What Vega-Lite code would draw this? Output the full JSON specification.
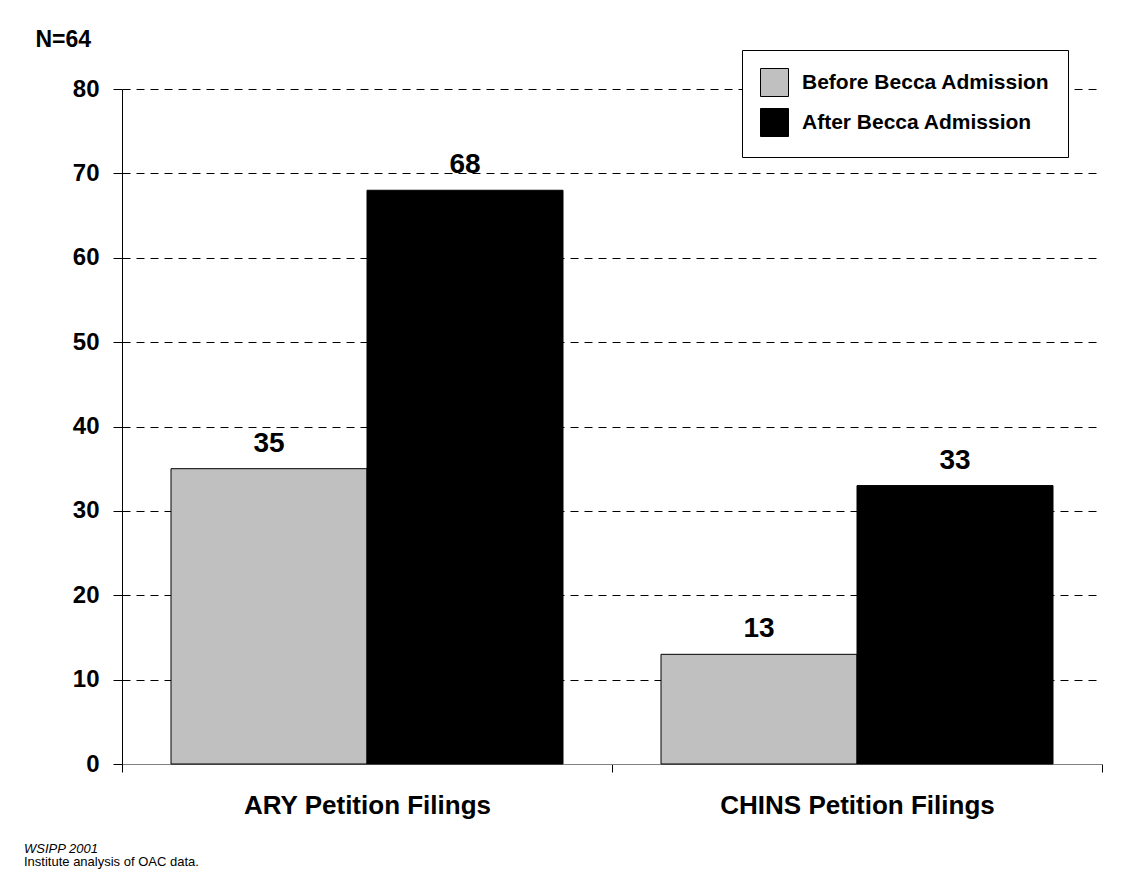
{
  "$schema": "https://vega.github.io/schema/vega-lite/v6.json",
  "width": 980,
  "height": 675,
  "autosize": "none",
  "padding": {"left": 122, "top": 89, "right": 31, "bottom": 109},
  "background": "white",
  "config": {
    "font": "Liberation Sans",
    "view": {"stroke": null}
  },
  "title": {
    "text": "WSIPP 2001",
    "subtitle": "Institute analysis of OAC data.",
    "orient": "bottom",
    "anchor": "start",
    "frame": "group",
    "dx": -98,
    "offset": 25,
    "fontSize": 13,
    "fontStyle": "italic",
    "fontWeight": "normal",
    "color": "black",
    "subtitleFontSize": 13,
    "subtitleFontStyle": "normal",
    "subtitleColor": "black",
    "subtitlePadding": 0
  },
  "data": {
    "values": [
      {"category": "ARY Petition Filings", "period": "Before Becca Admission", "value": 35},
      {"category": "ARY Petition Filings", "period": "After Becca Admission", "value": 68},
      {"category": "CHINS Petition Filings", "period": "Before Becca Admission", "value": 13},
      {"category": "CHINS Petition Filings", "period": "After Becca Admission", "value": 33}
    ]
  },
  "encoding": {
    "x": {
      "field": "category",
      "type": "nominal",
      "sort": ["ARY Petition Filings", "CHINS Petition Filings"],
      "scale": {"paddingInner": 0, "paddingOuter": 0},
      "axis": {
        "title": null,
        "labelAngle": 0,
        "labelFontSize": 26,
        "labelFontWeight": "bold",
        "labelColor": "black",
        "labelLimit": 600,
        "labelPadding": 20,
        "tickBand": "extent",
        "tickSize": 8,
        "tickColor": "black",
        "domainColor": "#808080",
        "grid": false
      }
    },
    "xOffset": {
      "field": "period",
      "type": "nominal",
      "sort": ["Before Becca Admission", "After Becca Admission"],
      "scale": {"paddingInner": 0, "paddingOuter": 0.25}
    },
    "y": {
      "field": "value",
      "type": "quantitative",
      "scale": {"domain": [0, 80], "nice": false},
      "axis": {
        "values": [0, 10, 20, 30, 40, 50, 60, 70, 80],
        "title": "N=64",
        "titleAngle": 0,
        "titleAlign": "left",
        "titleBaseline": "alphabetic",
        "titleX": -87,
        "titleY": -43,
        "titleFontSize": 23,
        "titleFontWeight": "bold",
        "titleColor": "black",
        "labelFontSize": 24,
        "labelFontWeight": "bold",
        "labelColor": "black",
        "labelPadding": 14,
        "tickSize": 9,
        "tickColor": "black",
        "domainColor": "black",
        "grid": true,
        "gridColor": "black",
        "gridDash": [8, 6],
        "gridWidth": 1
      }
    }
  },
  "layer": [
    {
      "mark": {"type": "bar", "stroke": "black", "strokeWidth": 1},
      "encoding": {
        "fill": {
          "field": "period",
          "type": "nominal",
          "sort": ["Before Becca Admission", "After Becca Admission"],
          "scale": {"domain": ["Before Becca Admission", "After Becca Admission"], "range": ["#C0C0C0", "#000000"]},
          "legend": {
            "title": null,
            "orient": "none",
            "legendX": 620,
            "legendY": -39,
            "padding": 18,
            "strokeColor": "black",
            "fillColor": "white",
            "symbolType": "square",
            "symbolSize": 784,
            "symbolStrokeColor": "black",
            "symbolStrokeWidth": 1,
            "labelFontSize": 21,
            "labelFontWeight": "bold",
            "labelColor": "black",
            "labelOffset": 13,
            "labelLimit": 400,
            "rowPadding": 7
          }
        }
      }
    },
    {
      "mark": {"type": "text", "dy": -17, "baseline": "alphabetic", "fontSize": 28, "fontWeight": "bold", "color": "black"},
      "encoding": {
        "text": {"field": "value", "type": "quantitative"}
      }
    }
  ]
}
